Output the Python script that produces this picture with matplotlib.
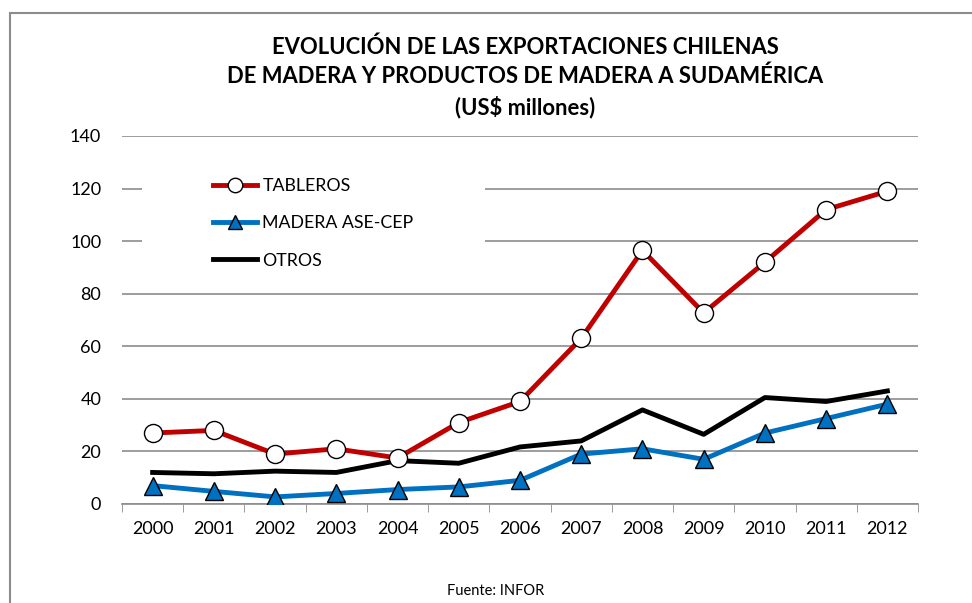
import matplotlib.pyplot as plt
from matplotlib.patches import Rectangle

plt.rcParams['font.family'] = ['Lato', 'DejaVu Sans']

# ---- datos (US$ millones) ----
years = ['2000', '2001', '2002', '2003', '2004', '2005', '2006',
         '2007', '2008', '2009', '2010', '2011', '2012']
tableros = [27, 28, 19, 21, 17.5, 31, 39, 63, 96.5, 72.7, 92, 112, 119]
madera = [7, 4.8, 2.7, 4, 5.5, 6.5, 9, 19, 21, 17, 27, 32.5, 38]
otros = [12, 11.5, 12.5, 12, 16.5, 15.5, 21.7, 24, 35.8, 26.5, 40.5, 39, 43]

title = ('EVOLUCIÓN DE LAS EXPORTACIONES CHILENAS\n'
         'DE MADERA Y PRODUCTOS DE MADERA A SUDAMÉRICA\n'
         '(US$ millones)')

W, H = 972, 603
fig = plt.figure(figsize=(W / 100, H / 100), dpi=100)

# marco exterior del grafico
fig.patches.append(Rectangle((10 / W, -0.05), 1.1, 1 - 13 / H + 0.05,
                             transform=fig.transFigure, fill=False,
                             edgecolor='#8c8c8c', linewidth=1.5))

ax = fig.add_axes([122 / W, 1 - 504 / H, (918 - 122) / W, (504 - 136) / H])

x = list(range(len(years)))
ax.plot(x, tableros, color='#c00000', linewidth=3.5, marker='o', markersize=13,
        markerfacecolor='white', markeredgecolor='black', markeredgewidth=1.0,
        label='TABLEROS', zorder=3)
ax.plot(x, madera, color='#0070c0', linewidth=3.5, marker='^', markersize=13,
        markerfacecolor='#0070c0', markeredgecolor='black', markeredgewidth=1.0,
        label='MADERA ASE-CEP', zorder=3)
ax.plot(x, otros, color='black', linewidth=3.5, label='OTROS', zorder=2)

ax.set_xlim(-0.5, len(years) - 0.5)
ax.set_ylim(0, 140)
ax.set_yticks(range(0, 141, 20))
ax.set_xticks(x)
ax.set_xticklabels(years)
ax.set_xticks([i - 0.5 for i in range(len(years) + 1)], minor=True)
ax.tick_params(axis='x', which='major', length=0, pad=12, labelsize=13)
ax.tick_params(axis='x', which='minor', length=6, color='#8c8c8c')
ax.tick_params(axis='y', length=0, pad=15, labelsize=13)
ax.grid(axis='y', color='#8c8c8c', linewidth=1.2)
ax.set_axisbelow(True)
for s in ['top', 'right', 'left']:
    ax.spines[s].set_visible(False)
ax.spines['bottom'].set_color('#8c8c8c')
ax.spines['bottom'].set_linewidth(1.2)

# fondo blanco de la leyenda (como en Excel, tapa las lineas de grilla)
ax.add_patch(Rectangle((142 / W, 1 - 278 / H), (485 - 142) / W, (278 - 163) / H,
                       transform=fig.transFigure, facecolor='white',
                       edgecolor='none', zorder=1.5))

leg = ax.legend(loc='upper left', bbox_to_anchor=(213 / W, 1 - 178 / H),
                bbox_transform=fig.transFigure, frameon=False,
                fontsize=12.8, handlelength=2.5, handletextpad=0.28,
                labelspacing=1.2, borderpad=0, borderaxespad=0,
                markerscale=0.8)

fig.text(525 / W, 1 - 77 / H, title, ha='center', va='center',
         fontsize=15.8, fontweight='bold', linespacing=1.45)
fig.text(496 / W, 1 - 591 / H, 'Fuente: INFOR', ha='center', va='center',
         fontsize=10.5)

fig.savefig('out.png', dpi=100)
